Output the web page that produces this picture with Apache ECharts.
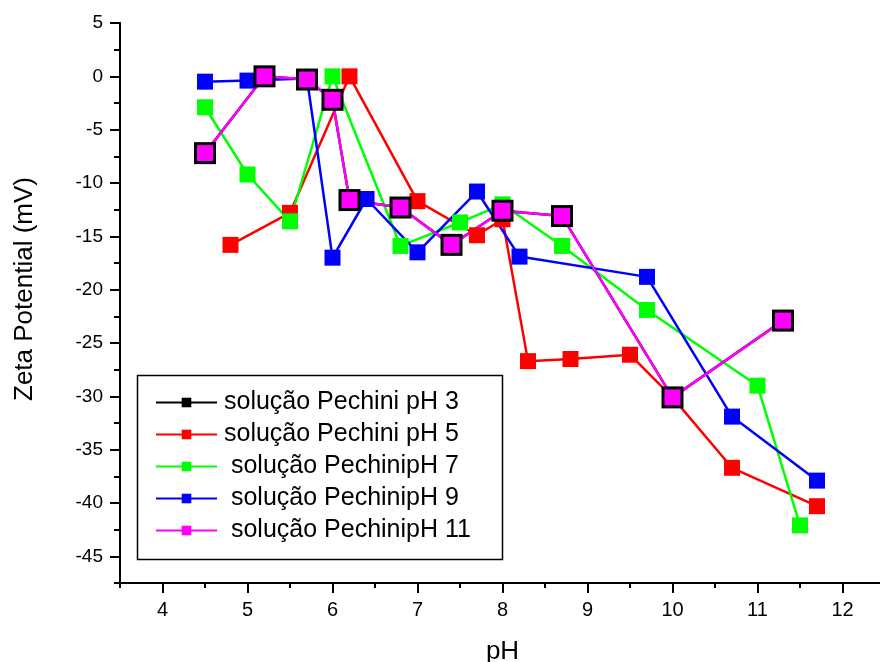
<!DOCTYPE html>
<html>
<head>
<meta charset="utf-8">
<script src="https://cdn.jsdelivr.net/npm/echarts@6/dist/echarts.min.js"></script>
<style>html,body{margin:0;padding:0;background:#fff}#c{width:880px;height:662px}</style>
</head>
<body>
<div id="c"></div>
<script>
// ---- data ----
var seriesNames = ['solução Pechini pH 3', 'solução Pechini pH 5', ' solução PechinipH 7', ' solução PechinipH 9', ' solução PechinipH 11'];

var ph3X = [4.5, 5.2, 5.7, 6.0, 6.2, 6.8, 7.4, 8.0, 8.7, 10.0, 11.3];
var ph3Y = [-7.2, 0, -0.3, -2.2, -11.6, -12.3, -15.8, -12.6, -13.1, -30.1, -22.9];

var ph5X = [4.8, 5.5, 6.2, 7.0, 7.7, 8.0, 8.3, 8.8, 9.5, 10.0, 10.7, 11.7];
var ph5Y = [-15.8, -12.8, 0, -11.7, -14.9, -13.4, -26.7, -26.5, -26.1, -30.1, -36.7, -40.3];

var ph7X = [4.5, 5.0, 5.5, 6.0, 6.8, 7.5, 8.0, 8.7, 9.7, 11.0, 11.5];
var ph7Y = [-2.9, -9.2, -13.6, 0, -15.9, -13.7, -12.0, -15.9, -21.9, -29.0, -42.1];

var ph9X = [4.5, 5.0, 5.7, 6.0, 6.4, 7.0, 7.7, 8.2, 9.7, 10.7, 11.7];
var ph9Y = [-0.5, -0.4, -0.2, -17.0, -11.5, -16.5, -10.8, -16.9, -18.8, -31.9, -37.9];

var ph11X = [4.5, 5.2, 5.7, 6.0, 6.2, 6.8, 7.4, 8.0, 8.7, 10.0, 11.3];
var ph11Y = [-7.2, 0, -0.3, -2.2, -11.6, -12.3, -15.8, -12.6, -13.1, -30.1, -22.9];

var xTickLabels = [4, 5, 6, 7, 8, 9, 10, 11, 12];
var yTickLabels = [-45, -40, -35, -30, -25, -20, -15, -10, -5, 0, 5];

function pairs(xs, ys) { return xs.map(function (x, i) { return [x, ys[i]]; }); }

var FONT = 'Liberation Sans, Arial, sans-serif';
var chart = echarts.init(document.getElementById('c'), null, {renderer: 'canvas'});

function mk(name, color, xs, ys, size) {
  return {
    name: name, type: 'line', xAxisIndex: 0, yAxisIndex: 0,
    data: pairs(xs, ys),
    symbol: 'rect', symbolSize: size,
    lineStyle: {color: color, width: 2.5},
    itemStyle: {color: color},
    emphasis: {disabled: true}
  };
}

var axisLineStyle = {show: true, onZero: false, lineStyle: {color: '#000', width: 2}};

chart.setOption({
  animation: false,
  backgroundColor: '#fff',
  grid: {left: 120, top: 23, width: 765, height: 560, containLabel: false, outerBoundsMode: 'none'},
  xAxis: [
    {
      type: 'value', min: 3.5, max: 12.5, interval: 0.5, position: 'bottom',
      axisLine: axisLineStyle,
      axisTick: {show: true, length: 5, lineStyle: {color: '#000', width: 2}},
      axisLabel: {customValues: xTickLabels, fontSize: 20, color: '#000', fontFamily: FONT, margin: 17},
      splitLine: {show: false},
      name: 'pH', nameLocation: 'middle', nameGap: 56,
      nameTextStyle: {fontSize: 26, color: '#000', fontFamily: FONT}
    },
    {
      type: 'value', min: 3.5, max: 12.5, interval: 0.5, position: 'bottom',
      axisLine: axisLineStyle,
      axisTick: {show: true, length: 10, customValues: xTickLabels, lineStyle: {color: '#000', width: 2}},
      axisLabel: {show: false},
      splitLine: {show: false}
    }
  ],
  yAxis: [
    {
      type: 'value', min: -47.5, max: 5, interval: 2.5, position: 'left',
      axisLine: axisLineStyle,
      axisTick: {show: true, length: 6, lineStyle: {color: '#000', width: 2}},
      axisLabel: {customValues: yTickLabels, fontSize: 19, color: '#000', fontFamily: FONT, margin: 17},
      splitLine: {show: false},
      name: 'Zeta Potential (mV)', nameLocation: 'middle', nameGap: 82, nameRotate: 90,
      nameTextStyle: {fontSize: 26, color: '#000', fontFamily: FONT, padding: [0, 0, 0, 28]}
    },
    {
      type: 'value', min: -47.5, max: 5, interval: 2.5, position: 'left',
      axisLine: axisLineStyle,
      axisTick: {show: true, length: 10, customValues: yTickLabels, lineStyle: {color: '#000', width: 2}},
      axisLabel: {show: false},
      splitLine: {show: false}
    }
  ],
  legend: {
    orient: 'vertical', left: 155, top: 390, padding: 0,
    itemWidth: 61, itemHeight: 12, itemGap: 7,
    data: seriesNames,
    selectedMode: false,
    textStyle: {fontSize: 25, color: '#000', fontFamily: FONT, lineHeight: 25, padding: [0, 0, 0, 2]}
  },
  graphic: [{
    type: 'rect', left: 135, top: 373, z: 100,
    shape: {width: 365, height: 184},
    style: {fill: 'none', stroke: '#000', lineWidth: 1.5}
  }],
  series: [
    mk(seriesNames[1], '#ff0000', ph5X, ph5Y, 16),
    mk(seriesNames[2], '#00ff00', ph7X, ph7Y, 16),
    mk(seriesNames[3], '#0000ff', ph9X, ph9Y, 16),
    mk(seriesNames[0], '#000000', ph3X, ph3Y, 22),
    mk(seriesNames[4], '#ff00ff', ph11X, ph11Y, 16)
  ]
});
</script>
</body>
</html>
